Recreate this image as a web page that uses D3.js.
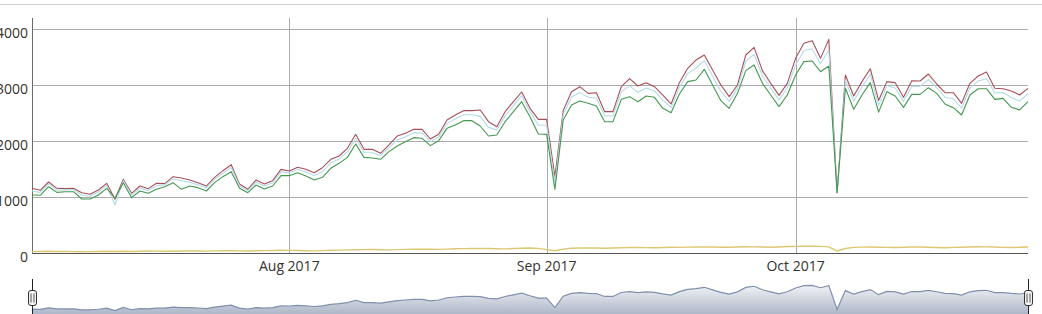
<!DOCTYPE html>
<html>
<head>
<meta charset="utf-8">
<script src="https://cdn.jsdelivr.net/npm/d3@7"></script>
<style>
  body { margin: 0; background: #fff; }
  text { font-family: "Open Sans", sans-serif; font-size: 14px; fill: #333; }
</style>
</head>
<body>
<script>
var width = 1042,
    height = 314;

// daily values, 1 Jul 2017 .. 29 Oct 2017
var startDate = new Date(2017, 6, 1);

var red = [1155,1119,1268,1155,1150,1155,1077,1048,1125,1244,
  959,1316,1066,1196,1149,1244,1238,1363,1339,1304,
  1256,1196,1351,1470,1577,1232,1137,1304,1232,1292,
  1494,1464,1530,1494,1434,1524,1673,1732,1870,2119,
  1851,1851,1780,1929,2089,2137,2208,2208,2036,2119,
  2375,2464,2542,2542,2554,2345,2256,2524,2702,2875,
  2583,2387,2387,1363,2542,2881,2970,2851,2863,2524,
  2524,2970,3113,2982,3042,2970,2821,2661,3042,3298,
  3446,3536,3268,3000,2792,3000,3536,3673,3256,3030,
  2815,3030,3476,3744,3792,3476,3815,1077,3179,2804,
  3060,3290,2725,3060,3042,2780,3077,3071,3196,3018,
  2863,2863,2673,3030,3161,3232,2941,2934,2893,2821,2941];

var blue = [1107,1083,1234,1126,1128,1131,1032,1014,1089,1208,
  857,1292,1035,1160,1116,1201,1216,1320,1290,1261,
  1220,1160,1313,1427,1527,1201,1113,1268,1196,1254,
  1449,1431,1492,1446,1382,1455,1609,1680,1805,2050,
  1794,1789,1737,1881,2018,2077,2149,2144,1988,2074,
  2315,2393,2470,2470,2440,2243,2196,2452,2631,2806,
  2524,2282,2280,1250,2475,2786,2868,2780,2768,2452,
  2452,2880,2985,2870,2947,2894,2726,2599,2961,3203,
  3303,3434,3161,2888,2708,2940,3424,3547,3166,2946,
  2734,2946,3357,3613,3647,3381,3625,1077,3084,2709,
  2964,3191,2641,2988,2947,2708,2979,2976,3098,2951,
  2782,2756,2589,2946,3070,3113,2862,2865,2776,2714,2845];

var green = [1036,1030,1184,1083,1095,1095,964,964,1036,1155,
  976,1256,988,1107,1066,1137,1184,1256,1137,1196,
  1167,1107,1256,1363,1452,1155,1077,1214,1143,1196,
  1381,1381,1434,1375,1304,1351,1512,1601,1708,1946,
  1708,1696,1673,1810,1911,1988,2060,2048,1917,2006,
  2226,2286,2363,2363,2268,2089,2107,2345,2524,2702,
  2435,2125,2119,1137,2375,2643,2714,2673,2625,2345,
  2345,2744,2792,2702,2804,2780,2583,2506,2839,3060,
  3089,3280,3000,2720,2583,2851,3256,3357,3030,2821,
  2613,2821,3179,3417,3429,3238,3339,1077,2941,2566,
  2821,3042,2515,2881,2804,2601,2833,2833,2952,2851,
  2661,2595,2464,2821,2934,2934,2744,2762,2601,2554,2702];

var yellow = [25,28,30,27,26,24,22,25,28,30,
  26,30,28,32,35,33,30,32,35,38,
  36,34,38,40,42,38,35,40,42,45,
  48,46,44,40,38,42,48,52,55,58,
  60,62,58,55,60,65,68,70,66,64,
  70,75,78,80,82,80,76,74,80,85,
  88,82,60,40,70,85,90,92,88,85,
  90,95,98,100,96,94,98,102,100,105,
  108,110,106,102,104,108,112,110,106,104,
  108,115,118,120,122,118,110,35,80,100,
  105,108,104,100,98,102,106,108,104,98,
  95,100,104,108,112,110,106,100,98,102,108];

var yTicks = [0, 1000, 2000, 3000, 4000];
var xTicks = [new Date(2017, 7, 1), new Date(2017, 8, 1), new Date(2017, 9, 1)];

var seriesList = [
  {name: "red", values: red, color: "#a8505a"},
  {name: "blue", values: blue, color: "#b4dbe8"},
  {name: "green", values: green, color: "#45984f"},
  {name: "yellow", values: yellow, color: "#dcc872"}
];

var dates = red.map(function (d, i) { return d3.timeDay.offset(startDate, i); });

var svg = d3.select("body").append("svg").attr("width", width).attr("height", height);

// thin rule above the chart
svg.append("line").attr("x1", 0).attr("x2", width).attr("y1", 4.5).attr("y2", 4.5)
  .attr("stroke", "#d0d0d0");

var plotTop = 18, plotBottom = 253, plotLeft = 32, plotRight = 1028;

var allMax = d3.max(seriesList, function (s) { return d3.max(s.values); });

var x = d3.scaleTime()
  .domain([dates[0], dates[dates.length - 1]])
  .range([plotLeft, plotRight]);

var y = d3.scaleLinear()
  .domain([0, allMax * 1.1])
  .range([plotBottom, plotTop]);

// grid
var grid = svg.append("g").attr("shape-rendering", "crispEdges");
grid.selectAll("line.h").data(yTicks.slice(1)).enter().append("line")
  .attr("class", "h")
  .attr("x1", plotLeft).attr("x2", plotRight)
  .attr("y1", function (d) { return Math.round(y(d)); })
  .attr("y2", function (d) { return Math.round(y(d)); })
  .attr("stroke", "#ababab");
grid.selectAll("line.v").data(xTicks).enter().append("line")
  .attr("class", "v")
  .attr("x1", function (d) { return Math.round(x(d)); })
  .attr("x2", function (d) { return Math.round(x(d)); })
  .attr("y1", plotTop).attr("y2", plotBottom)
  .attr("stroke", "#ababab");

// axes lines
grid.append("line").attr("x1", plotLeft).attr("x2", plotLeft)
  .attr("y1", plotTop).attr("y2", plotBottom).attr("stroke", "#6a6a6a");
grid.append("line").attr("x1", plotLeft).attr("x2", plotRight)
  .attr("y1", plotBottom).attr("y2", plotBottom).attr("stroke", "#555");

// axis labels
svg.selectAll("text.ylab").data(yTicks).enter().append("text")
  .attr("class", "ylab")
  .attr("text-anchor", "end")
  .attr("x", 28)
  .attr("y", function (d) { return y(d) + 9; })
  .text(function (d) { return d; });

var fmt = d3.timeFormat("%b %Y");
svg.selectAll("text.xlab").data(xTicks).enter().append("text")
  .attr("class", "xlab")
  .attr("text-anchor", "middle")
  .attr("x", function (d) { return x(d); })
  .attr("y", 271)
  .text(function (d) { return fmt(d); });

// series
var line = d3.line()
  .x(function (d, i) { return x(dates[i]); })
  .y(function (d) { return y(d); });

svg.append("g").selectAll("path").data(seriesList).enter().append("path")
  .attr("d", function (s) { return line(s.values); })
  .attr("fill", "none")
  .attr("stroke", function (s) { return s.color; })
  .attr("stroke-width", function (s) { return s.name == "yellow" ? 1.4 : 1.1; })
  .attr("stroke-linejoin", "round");

// range selector (mini plot of the series average)
var rsTop = 279, rsBottom = 317;
var combined = dates.map(function (d, i) {
  return d3.mean(seriesList, function (s) { return s.values[i]; });
});
var cMin = d3.min(combined), cMax = d3.max(combined), extra = (cMax - cMin) * 0.25;
var ym = d3.scaleLinear().domain([cMin - extra, cMax + extra]).range([rsBottom, rsTop]);

var defs = svg.append("defs");
var grad = defs.append("linearGradient").attr("id", "rsfill")
  .attr("gradientUnits", "userSpaceOnUse")
  .attr("x1", 0).attr("x2", 0)
  .attr("y1", rsTop).attr("y2", rsBottom);
grad.append("stop").attr("offset", 0).attr("stop-color", "#ffffff");
grad.append("stop").attr("offset", 1).attr("stop-color", "#a7b1c4");

var area = d3.area()
  .x(function (d, i) { return x(dates[i]); })
  .y0(height + 5)
  .y1(function (d) { return ym(d); });
svg.append("path").attr("d", area(combined)).attr("fill", "url(#rsfill)");
svg.append("path")
  .attr("d", d3.line().x(function (d, i) { return x(dates[i]); }).y(function (d) { return ym(d); })(combined))
  .attr("fill", "none").attr("stroke", "#808fab").attr("stroke-width", 1.2);

// selection outline and handles
[plotLeft, plotRight].forEach(function (hx) {
  svg.append("line").attr("x1", hx + 0.5).attr("x2", hx + 0.5)
    .attr("y1", rsTop).attr("y2", height).attr("stroke", "#222");
  var h = svg.append("g").attr("transform", "translate(" + (hx + 0.5) + ",298)");
  h.append("rect").attr("x", -4).attr("y", -7.5).attr("width", 8).attr("height", 15)
    .attr("rx", 2.5).attr("fill", "#f4f4f4").attr("stroke", "#333");
  h.append("line").attr("x1", -1.5).attr("x2", -1.5).attr("y1", -4.5).attr("y2", 4.5).attr("stroke", "#555");
  h.append("line").attr("x1", 1.5).attr("x2", 1.5).attr("y1", -4.5).attr("y2", 4.5).attr("stroke", "#555");
});
</script>
</body>
</html>
